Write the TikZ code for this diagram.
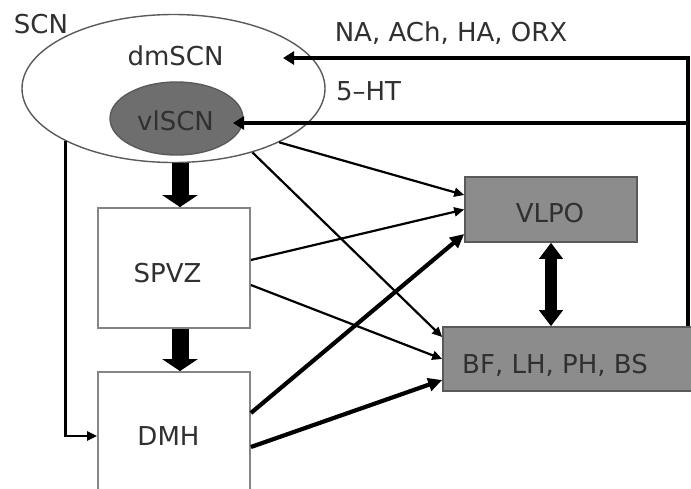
\documentclass[tikz,border=0pt]{standalone}
\usepackage{fontspec}
\setmainfont{DejaVu Sans}
\usetikzlibrary{arrows.meta,calc,shapes.geometric}
\definecolor{txt}{HTML}{303030}
\definecolor{boxline}{HTML}{858585}
\definecolor{gline}{HTML}{5A5A5A}
\definecolor{gfill}{HTML}{8C8C8C}
\definecolor{dfill}{HTML}{6E6E6E}
\begin{document}
\begin{tikzpicture}[x=1pt,y=-1pt,
  lbl/.style={font=\fontsize{26}{30}\selectfont, text=txt, inner sep=0pt, anchor=base},
  wbox/.style={draw=boxline, line width=1.8pt, fill=white, inner sep=0pt, rectangle},
  gbox/.style={draw=gline, line width=1.6pt, fill=gfill, inner sep=0pt, rectangle},
  thinarr/.style={line width=2.2pt, -{Triangle[length=10pt,width=9pt]}},
  thickarr/.style={line width=4.2pt, -{Triangle[length=14pt,width=13pt]}},
  fbarr/.style={line width=3.4pt, -{Triangle[length=11pt,width=13pt]}},
  blockarr/.style={line width=17pt, -{Triangle[length=12pt,width=35pt]}},
  dblarr/.style={line width=12pt, {Triangle[length=16pt,width=23pt]}-{Triangle[length=16pt,width=23pt]}}]
\useasboundingbox (0,0) rectangle (691,488);
\clip (0,0) rectangle (691,488);
\fill[white] (0,0) rectangle (691,488);

% nodes
\node[ellipse, draw=gline, line width=1.4pt, fill=white, minimum width=303pt, minimum height=148pt, inner sep=0pt] (scn) at (173.5,88.5) {};
\node[ellipse, draw=gline, line width=1.4pt, fill=dfill, minimum width=133pt, minimum height=73pt, inner sep=0pt] (vlscn) at (176.5,118.5) {};
\node[wbox, minimum width=152pt, minimum height=120pt] (spvz) at (174,268) {};
\node[wbox, minimum width=152pt, minimum height=128pt] (dmh) at (174,436) {};
\node[gbox, minimum width=172pt, minimum height=65pt] (vlpo) at (551,209.5) {};
\node[gbox, minimum width=257pt, minimum height=64pt] (bf) at (571.5,359) {};

% labels
\node[lbl] (scnl) at (41,33) {SCN};
\node[lbl] (dml) at (175.5,65) {dmSCN};
\node[lbl] (vll) at (175.5,130) {vlSCN};
\node[lbl] (spvzl) at (167.5,282) {SPVZ};
\node[lbl] (dmhl) at (168.5,445) {DMH};
\node[lbl] (vlpol) at (550,222) {VLPO};
\node[lbl] (bfl) at (555,373) {BF, LH, PH, BS};
\node[lbl] (nal) at (451,41.5) {NA, ACh, HA, ORX};
\node[lbl] (htl) at (368.5,100) {5–HT};

% feedback coordinates
\coordinate (c1) at (688,58);
\coordinate (c2) at (688,123);
\coordinate (dmtip) at (283,58);
\coordinate (vltip) at (233,123);

% feedback arrows
\draw[fbarr] (bf.north -| c1) -- (c1) -- (dmtip);
\draw[fbarr] (c2) -- (vltip);

% SCN -> DMH
\draw[thinarr] (scn.206.5) |- (dmh.west);

% thin arrows
\draw[thinarr] (scn.333) -- ($(vlpo.west)+(0,-14.5)$);
\draw[thinarr] (scn.321) -- ($(bf.west)+(0,-22)$);
\draw[thinarr] ($(spvz.east)+(0,-8)$) -- (vlpo.west);
\draw[thinarr] ($(spvz.east)+(0,17)$) -- (bf.west);

% thick arrows
\draw[thickarr] ($(dmh.east)+(0,-23)$) -- ($(vlpo.west)+(0,24.5)$);
\draw[thickarr] ($(dmh.east)+(0,11)$) -- ($(bf.west)+(0,21)$);

% block arrows
\draw[blockarr] ($(scn.south)+(6.5,0)$) -- ($(spvz.north)+(6,0)$);
\draw[blockarr] ($(spvz.south)+(6,0)$) -- ($(dmh.north)+(6,0)$);
\draw[dblarr] (vlpo.south) -- (vlpo.south |- bf.north);
\end{tikzpicture}
\end{document}
